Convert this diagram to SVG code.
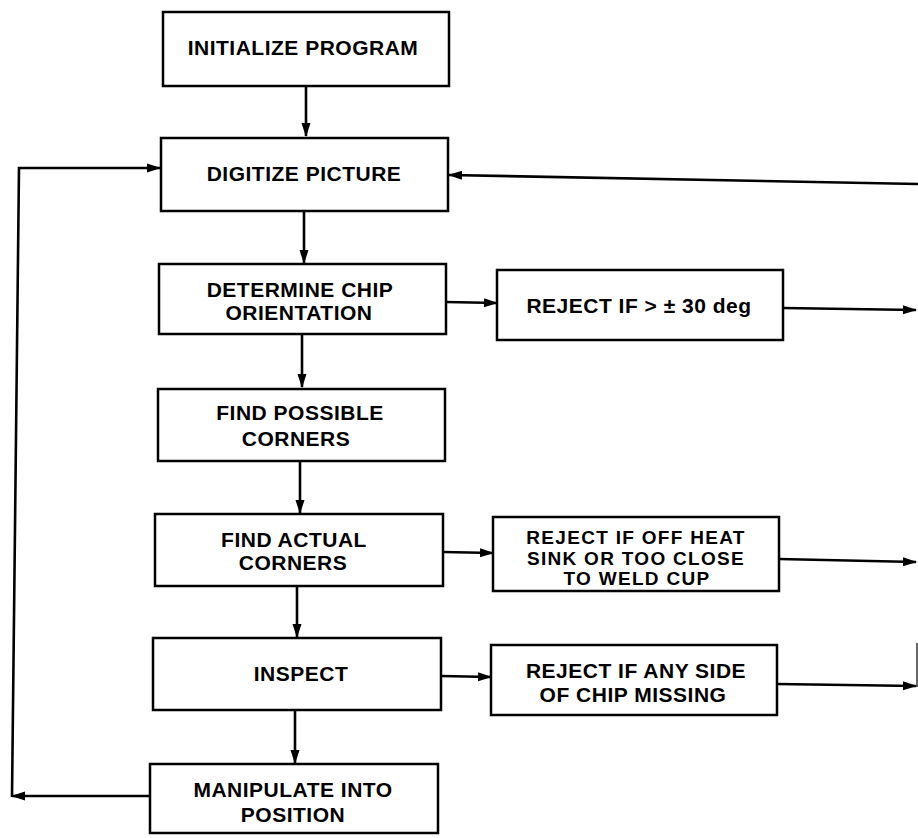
<svg xmlns="http://www.w3.org/2000/svg" width="918" height="838" viewBox="0 0 918 838">
<defs>
<marker id="ah" markerUnits="userSpaceOnUse" markerWidth="14" markerHeight="10" viewBox="0 0 14 10" refX="13" refY="5" orient="auto">
<path d="M0,0.5 L14,5 L0,9.5 Z" fill="#000"/>
</marker>
<style>
.box{fill:#fff;stroke:#000;stroke-width:2.5}
.t{font-family:"Liberation Sans",Arial,sans-serif;font-weight:bold;font-size:21px;letter-spacing:0.5px;text-anchor:middle;fill:#000}
.s{font-size:19px;letter-spacing:1.3px}
.c{fill:none;stroke:#000;stroke-width:2.6}
.ca{fill:none;stroke:#000;stroke-width:2.6;marker-end:url(#ah)}
</style>
</defs>
<rect width="918" height="838" fill="#fff"/>
<g id="connectors">
<line class="ca" x1="306" y1="86" x2="306" y2="136"/>
<line class="ca" x1="304" y1="212" x2="304" y2="263"/>
<line class="ca" x1="302" y1="335" x2="302" y2="387"/>
<line class="ca" x1="300" y1="461" x2="300" y2="513"/>
<line class="ca" x1="297" y1="587" x2="297" y2="637"/>
<line class="ca" x1="295" y1="711" x2="295" y2="763"/>
<line class="ca" x1="150" y1="796" x2="12" y2="796"/>
<polyline class="ca" points="12,797 19,168 160,168"/>
<line class="ca" x1="918" y1="184" x2="449" y2="175"/>
<line class="ca" x1="446" y1="302" x2="497" y2="303"/>
<line class="ca" x1="783" y1="308" x2="916" y2="310"/>
<line class="ca" x1="443" y1="552" x2="493" y2="553"/>
<line class="ca" x1="779" y1="559" x2="916" y2="562"/>
<line class="ca" x1="441" y1="676" x2="491" y2="677"/>
<line class="ca" x1="777" y1="684" x2="916" y2="686"/>
<line x1="917" y1="643" x2="917" y2="687" stroke="#000" stroke-width="1.2"/>
</g>
<g id="n-init">
<rect class="box" x="163" y="12" width="286" height="74"/>
<text class="t" x="303" y="55">INITIALIZE PROGRAM</text>
</g>
<g id="n-digitize">
<rect class="box" x="161" y="138" width="287" height="73"/>
<text class="t" x="304" y="181">DIGITIZE PICTURE</text>
</g>
<g id="n-orient">
<rect class="box" x="159" y="264" width="287" height="70"/>
<text class="t" x="300" y="297">DETERMINE CHIP</text>
<text class="t" x="299" y="320">ORIENTATION</text>
</g>
<g id="n-possible">
<rect class="box" x="158" y="389" width="287" height="72"/>
<text class="t" x="300" y="420">FIND POSSIBLE</text>
<text class="t" x="296" y="446">CORNERS</text>
</g>
<g id="n-actual">
<rect class="box" x="155" y="514" width="288" height="72"/>
<text class="t" x="294" y="547">FIND ACTUAL</text>
<text class="t" x="293" y="570">CORNERS</text>
</g>
<g id="n-inspect">
<rect class="box" x="153" y="638" width="288" height="72"/>
<text class="t" x="301" y="681">INSPECT</text>
</g>
<g id="n-manip">
<rect class="box" x="150" y="764" width="288" height="69"/>
<text class="t" x="293" y="797">MANIPULATE INTO</text>
<text class="t" x="293" y="822">POSITION</text>
</g>
<g id="n-rej-angle">
<rect class="box" x="497" y="270" width="286" height="70"/>
<text class="t" x="639" y="313">REJECT IF &gt; ± 30 deg</text>
</g>
<g id="n-rej-sink">
<rect class="box" x="493" y="517" width="286" height="74"/>
<text class="t s" x="636" y="544">REJECT IF OFF HEAT</text>
<text class="t s" x="636" y="564.5">SINK OR TOO CLOSE</text>
<text class="t s" x="637" y="585">TO WELD CUP</text>
</g>
<g id="n-rej-side">
<rect class="box" x="491" y="645" width="286" height="70"/>
<text class="t" x="636" y="678">REJECT IF ANY SIDE</text>
<text class="t" x="633" y="702">OF CHIP MISSING</text>
</g>
</svg>
